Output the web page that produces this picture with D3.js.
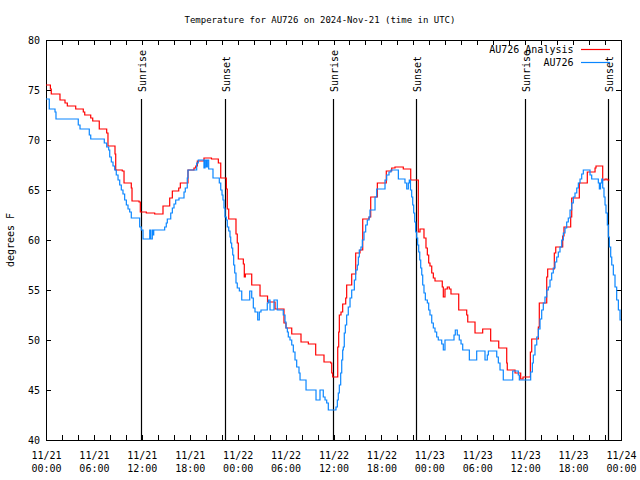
<!DOCTYPE html>
<html><head><meta charset="utf-8">
<script src="https://cdn.jsdelivr.net/npm/d3@7"></script>
<style>
html,body{margin:0;padding:0;background:#fff;}
svg{display:block;}
text{font-family:"DejaVu Sans Mono","Liberation Mono",monospace;font-size:10px;fill:#000;}
</style></head>
<body>
<svg id="chart" width="640" height="480"></svg>
<script>
// ---- DATA ----
const titleText = "Temperature for AU726 on 2024-Nov-21 (time in UTC)";
const yLabelText = "degrees F";
const startTime = "2024-11-21T00:00:00Z";
const endTime = "2024-11-24T00:00:00Z";
const yTicks = [40, 45, 50, 55, 60, 65, 70, 75, 80];
const seriesNames = ["AU726 Analysis", "AU726"];
const sunriseTimes = ["2024-11-21T11:56:00Z", "2024-11-22T11:59:00Z", "2024-11-23T12:02:00Z"];
const sunsetTimes = ["2024-11-21T22:26:00Z", "2024-11-22T22:23:00Z", "2024-11-23T22:26:00Z"];

// [hours since 2024-11-21 00:00 UTC, degrees F]
const analysisData = [[0,75.5],[0.55,75.1],[0.66,74.6],[1.75,74.0],[2.38,73.7],[2.67,73.4],[3.72,73.1],[4.67,72.8],[4.85,72.5],[5.60,72.2],[5.85,71.9],[6.67,71.1],[7.60,70.7],[7.76,69.4],[8.64,68.6],[8.73,67.0],[9.55,66.9],[9.77,65.7],[10.68,65.2],[10.77,63.9],[11.65,63.8],[11.81,62.8],[12.56,62.7],[13.61,62.6],[14.65,63.4],[15.49,64.2],[15.82,64.9],[16.62,65.2],[16.82,65.7],[17.78,67.0],[18.53,67.2],[18.75,67.4],[18.95,67.9],[19.78,68.2],[20.72,68.1],[21.58,67.7],[21.88,66.2],[22.58,65.1],[22.70,63.1],[22.88,62.1],[23.79,60.6],[23.95,59.7],[24.08,58.1],[24.71,57.6],[24.83,56.3],[24.96,56.6],[25.76,55.5],[26.80,54.4],[27.74,53.8],[28.68,53.1],[29.80,51.7],[30.05,51.2],[30.77,50.6],[31.93,49.8],[32.85,49.6],[33.77,48.5],[34.81,47.8],[35.65,47.7],[35.78,46.7],[35.90,46.3],[36.53,49.3],[36.65,50.8],[36.73,52.5],[36.94,52.8],[37.15,53.6],[37.53,54.2],[37.65,55.5],[38.28,56.6],[38.78,58.7],[39.32,59.0],[39.66,62.1],[40.45,62.3],[40.66,64.3],[41.49,65.7],[42.61,66.9],[43.29,67.2],[43.70,67.3],[44.74,67.1],[45.67,66.0],[46.62,60.8],[46.83,61.1],[47.33,60.2],[47.58,59.2],[47.75,58.5],[47.92,57.7],[48.08,57.4],[48.30,56.7],[48.50,56.2],[48.71,55.9],[49.62,55.3],[49.75,54.3],[49.96,55.1],[50.25,55.3],[50.50,55.1],[50.71,54.6],[51.68,53.0],[52.68,52.5],[52.81,51.8],[53.72,50.7],[54.68,51.1],[55.68,49.9],[56.69,49.2],[57.69,47.7],[57.76,47.0],[58.73,46.7],[59.44,46.1],[59.73,46.3],[60.65,48.8],[60.82,50.1],[61.65,51.3],[61.77,53.7],[62.70,56.3],[62.82,57.1],[63.65,58.7],[63.83,59.3],[64.70,60.4],[64.86,61.3],[65.70,62.3],[65.83,64.2],[66.78,65.7],[67.78,66.8],[68.75,67.2],[68.87,67.4],[69.71,66.0],[70.00,66.1],[70.25,66.0],[70.55,66.0]];

const obsData = [[0,74.1],[0.41,73.1],[1.13,72.8],[1.25,72.1],[4.04,71.5],[4.26,71.1],[5.42,70.5],[5.60,70.1],[7.30,69.7],[7.60,69.3],[7.85,69.0],[7.98,68.3],[8.18,67.8],[8.39,67.4],[8.60,67.0],[8.80,66.5],[9.02,66.0],[9.23,65.5],[9.43,65.0],[9.64,64.6],[9.85,64.0],[10.06,63.5],[10.27,63.1],[10.48,62.8],[10.68,62.2],[11.73,61.3],[11.93,61.0],[12.15,60.1],[12.99,61.0],[13.11,60.1],[13.31,61.0],[13.44,60.5],[13.49,61.0],[14.86,61.3],[15.06,61.7],[15.19,62.1],[15.62,62.7],[15.82,63.2],[16.03,63.6],[16.24,64.0],[16.65,64.2],[17.28,64.8],[17.44,65.2],[17.69,66.2],[17.78,67.0],[18.87,67.7],[19.07,68.0],[19.78,67.2],[19.91,68.0],[20.07,67.3],[20.20,68.0],[20.37,67.1],[20.91,66.2],[21.70,65.7],[21.88,65.0],[22.04,64.5],[22.16,64.0],[22.29,63.2],[22.41,62.3],[22.58,62.0],[22.70,61.3],[22.88,60.9],[23.04,60.3],[23.13,59.7],[23.25,59.2],[23.38,58.5],[23.50,57.5],[23.63,56.7],[23.79,55.7],[23.95,55.2],[24.21,54.9],[24.51,54.0],[25.51,54.9],[25.76,54.2],[25.96,53.2],[26.17,52.8],[26.51,52.0],[26.71,52.8],[26.92,53.0],[27.71,53.7],[27.84,54.0],[28.05,53.0],[28.55,54.0],[28.96,53.0],[29.71,52.5],[29.93,51.8],[30.05,51.2],[30.22,50.8],[30.34,50.3],[30.55,50.0],[30.77,49.5],[30.97,48.8],[31.18,48.0],[31.39,47.3],[31.68,46.7],[31.81,46.0],[32.56,45.0],[33.81,44.0],[34.31,45.0],[34.72,44.3],[34.94,44.0],[35.15,43.7],[35.35,43.0],[36.31,43.3],[36.48,44.0],[36.60,44.7],[36.73,45.5],[36.90,46.7],[37.03,48.0],[37.15,49.0],[37.23,49.3],[37.35,50.7],[37.48,51.5],[37.65,52.5],[37.85,53.3],[38.07,54.2],[38.28,55.0],[38.61,56.0],[38.78,57.0],[38.98,57.5],[39.11,58.3],[39.23,59.0],[39.44,59.3],[39.61,60.0],[39.82,60.8],[40.03,61.5],[40.23,62.0],[40.45,62.3],[40.57,63.0],[41.20,64.3],[41.41,65.1],[42.45,66.0],[42.66,66.5],[42.95,66.8],[43.20,67.0],[44.12,66.1],[44.95,65.7],[45.17,65.1],[45.37,65.7],[45.49,66.0],[45.64,65.0],[45.79,64.3],[45.92,63.5],[46.04,62.7],[46.17,61.8],[46.29,60.8],[46.42,60.2],[46.54,59.5],[46.67,58.8],[46.80,58.0],[46.92,57.2],[47.05,56.5],[47.17,55.5],[47.33,54.7],[47.50,54.0],[47.75,53.7],[47.92,53.0],[48.08,52.5],[48.30,51.7],[48.50,51.2],[48.71,50.8],[48.92,50.3],[49.12,50.0],[49.55,49.6],[49.75,49.0],[49.96,50.0],[51.09,50.5],[51.25,51.0],[51.50,50.5],[51.75,50.0],[51.97,49.6],[52.18,49.0],[53.01,48.0],[53.93,48.9],[54.97,48.0],[55.26,48.5],[55.39,48.9],[56.44,48.3],[56.64,47.7],[56.85,47.0],[57.26,46.0],[58.44,46.9],[59.14,46.5],[59.27,46.0],[60.69,46.8],[60.90,47.7],[61.02,48.5],[61.23,49.5],[61.45,50.3],[61.65,51.1],[61.86,52.1],[62.07,53.0],[62.27,53.7],[62.48,54.3],[62.70,55.0],[62.90,55.3],[63.11,56.0],[63.32,56.7],[63.52,57.2],[63.74,57.8],[63.95,58.3],[64.15,58.8],[64.36,59.3],[64.58,60.0],[64.78,60.7],[64.99,61.2],[65.20,61.8],[65.40,62.2],[65.62,63.0],[65.83,63.7],[66.03,64.3],[66.24,64.7],[66.46,65.2],[66.66,65.7],[66.87,66.1],[67.08,66.6],[67.28,67.0],[68.12,66.5],[68.33,66.1],[69.16,65.7],[69.29,65.1],[69.44,65.7],[69.59,66.1],[69.71,65.2],[69.87,64.3],[70.00,63.5],[70.12,62.7],[70.29,61.5],[70.41,60.3],[70.54,59.3],[70.71,58.3],[70.84,57.5],[71.04,56.5],[71.25,55.3],[71.46,54.0],[71.67,53.0],[71.88,52.0],[72.0,52.0]];

// ---- STYLE / LAYOUT ----
const colors = ["#ff0000", "#0a86ff"];
const m = {left: 46, right: 621, top: 40, bottom: 440};

const svg = d3.select("#chart");
const t0 = new Date(startTime), t1 = new Date(endTime);
const toDate = h => new Date(t0.getTime() + h * 3600e3);

const x = d3.scaleUtc().domain([t0, t1]).range([m.left, m.right]);
const y = d3.scaleLinear().domain([40, 80]).range([m.bottom, m.top]);

const xTickVals = d3.utcHour.every(2).range(t0, new Date(t1.getTime() + 1));

function styleAxis(g) {
  g.select(".domain").remove();
  g.selectAll(".tick line").attr("stroke", "#000").attr("shape-rendering", "crispEdges");
  g.attr("font-family", null).attr("font-size", null);
}

// bottom axis
const gb = svg.append("g").attr("transform", `translate(0,${m.bottom})`)
  .call(d3.axisBottom(x).tickValues(xTickVals).tickSize(-5).tickFormat(""));
styleAxis(gb);
gb.selectAll(".tick text").remove();
const fmtD = d3.utcFormat("%m/%d"), fmtT = d3.utcFormat("%H:%M");
gb.selectAll(".tick").each(function(d) {
  if (d.getUTCHours() % 6 !== 0) return;
  const t = d3.select(this).append("text").attr("text-anchor", "middle");
  t.append("tspan").attr("x", 0).attr("y", 18.5).text(fmtD(d));
  t.append("tspan").attr("x", 0).attr("y", 31.5).text(fmtT(d));
});

// top axis (mirror)
const gt = svg.append("g").attr("transform", `translate(0,${m.top})`)
  .call(d3.axisTop(x).tickValues(xTickVals).tickSize(-5).tickFormat(""));
styleAxis(gt);

// left axis
const gl = svg.append("g").attr("transform", `translate(${m.left},0)`)
  .call(d3.axisLeft(y).tickValues(yTicks).tickSize(-5).tickPadding(6).tickFormat(d3.format("d")));
styleAxis(gl);
gl.selectAll(".tick text").attr("dy", "0.35em");

// right axis (mirror)
const gr = svg.append("g").attr("transform", `translate(${m.right},0)`)
  .call(d3.axisRight(y).tickValues(yTicks).tickSize(-5).tickFormat(""));
styleAxis(gr);

// frame
svg.append("rect").attr("x", m.left).attr("y", m.top)
  .attr("width", m.right - m.left).attr("height", m.bottom - m.top)
  .attr("fill", "none").attr("stroke", "#000").attr("shape-rendering", "crispEdges");

// sunrise / sunset markers
const events = sunriseTimes.map(t => ({t: new Date(t), label: "Sunrise"}))
  .concat(sunsetTimes.map(t => ({t: new Date(t), label: "Sunset"})));
const ev = svg.append("g");
ev.selectAll("line").data(events).join("line")
  .attr("x1", d => Math.round(x(d.t)) + 0.5).attr("x2", d => Math.round(x(d.t)) + 0.5)
  .attr("y1", 99).attr("y2", m.bottom)
  .attr("stroke", "#000").attr("stroke-width", 1.2);
ev.selectAll("text").data(events).join("text")
  .attr("transform", d => `translate(${x(d.t) + 4.5},92) rotate(-90)`)
  .attr("text-anchor", "start")
  .text(d => d.label);

// data lines
const line = d3.line().x(d => x(toDate(d[0]))).y(d => y(d[1])).curve(d3.curveStepAfter);
[analysisData, obsData].forEach((data, i) => {
  svg.append("path").datum(data)
    .attr("fill", "none").attr("stroke", colors[i]).attr("stroke-width", 1.2)
    .attr("d", line);
});

// legend
const lg = svg.append("g");
seriesNames.forEach((name, i) => {
  const yy = 49.5 + i * 13;
  lg.append("text").attr("x", 573.5).attr("y", yy).attr("dy", "0.35em")
    .attr("text-anchor", "end").text(name);
  lg.append("line").attr("x1", 581).attr("x2", 610).attr("y1", yy).attr("y2", yy)
    .attr("stroke", colors[i]).attr("stroke-width", 1.2);
});

// title and y label
svg.append("text").attr("x", 320).attr("y", 20).attr("dy", "0.35em")
  .attr("text-anchor", "middle").style("font-size", "9px").text(titleText);
svg.append("text").attr("transform", "translate(10,240) rotate(-90)")
  .attr("dy", "0.35em").attr("text-anchor", "middle").text(yLabelText);
</script>
</body></html>
